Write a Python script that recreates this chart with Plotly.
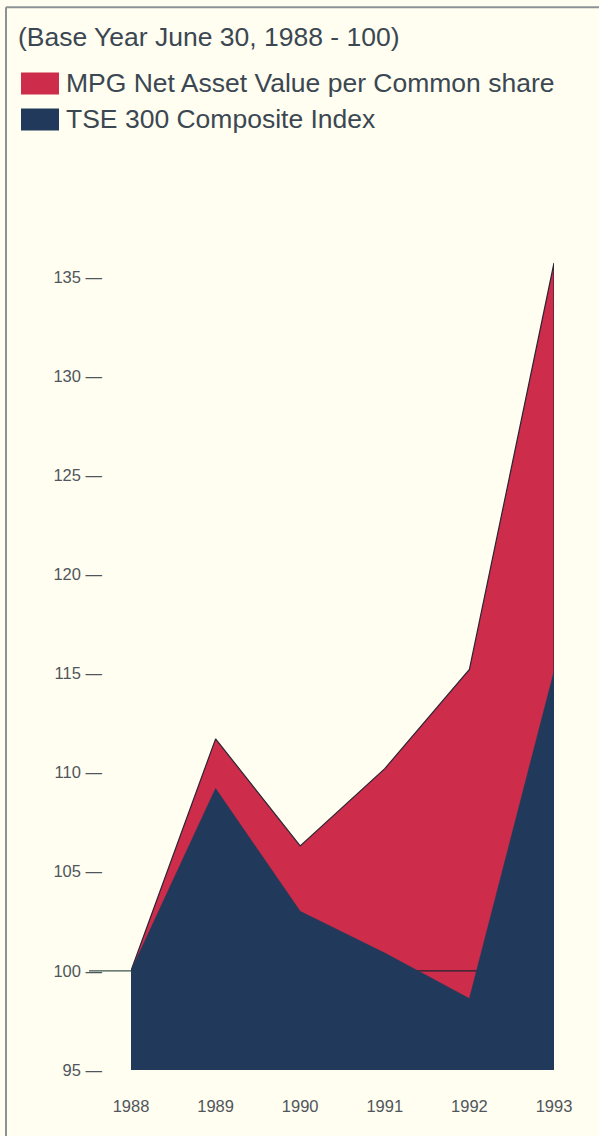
import plotly.graph_objects as go

years = [1988, 1989, 1990, 1991, 1992, 1993]
mpg_nav = [100, 111.7, 106.3, 110.2, 115.2, 135.7]
tse_300 = [100, 109.2, 103.0, 100.9, 98.6, 115.1]
y_ticks = [95, 100, 105, 110, 115, 120, 125, 130, 135]
base_value = 100

title_text = "(Base Year June 30, 1988 - 100)"
legend_names = ["MPG Net Asset Value per Common share", "TSE 300 Composite Index"]

RED = "#cd2c4a"
NAVY = "#213a5b"
BG = "#fffef0"
TXT = "#3b4752"
TICK = "#50565c"
FONT = "Liberation Sans, Arial, Helvetica, sans-serif"

W, H = 599, 1136
L, R, B = 131, 45, 66
Y0, Y1 = 95, 136
px_per_unit = (1070 - 277.3) / 40.0
T = H - B - (Y1 - Y0) * px_per_unit
PW = W - L - R
PH = H - T - B


def px_x(p):
    return (p - L) / PW


def px_y(p):
    return (H - B - p) / PH


fig = go.Figure()

# MPG area (red) with dark outline including right edge
fig.add_trace(go.Scatter(
    x=years + [years[-1]], y=mpg_nav + [Y0],
    mode="lines", fill="tozeroy", fillcolor=RED,
    line=dict(color="#2a2535", width=1.2),
    showlegend=False, hoverinfo="skip"))

# base line at 100, drawn between the two areas
fig.add_trace(go.Scatter(
    x=[years[0], years[-1]], y=[base_value, base_value],
    mode="lines", line=dict(color="#1f2430", width=1.3),
    showlegend=False, hoverinfo="skip"))

# TSE area (navy)
fig.add_trace(go.Scatter(
    x=years, y=tse_300,
    mode="lines", fill="tozeroy", fillcolor=NAVY,
    line=dict(color=NAVY, width=0.5),
    showlegend=False, hoverinfo="skip"))

shapes = [
    # left piece of base line outside plot
    dict(type="line", xref="paper", yref="y", x0=px_x(89), x1=0, y0=base_value, y1=base_value,
         line=dict(color="#3b554d", width=1.3)),
    # frame lines
    dict(type="line", xref="paper", yref="paper", x0=px_x(6), x1=px_x(W + 2), y0=px_y(8), y1=px_y(8),
         line=dict(color="#8d9296", width=2)),
    dict(type="line", xref="paper", yref="paper", x0=px_x(6), x1=px_x(6), y0=px_y(8), y1=px_y(H + 2),
         line=dict(color="#8d9296", width=2)),
    # legend swatches
    dict(type="rect", xref="paper", yref="paper", x0=px_x(21), x1=px_x(59), y0=px_y(95), y1=px_y(73),
         fillcolor=RED, line=dict(width=0)),
    dict(type="rect", xref="paper", yref="paper", x0=px_x(21), x1=px_x(59), y0=px_y(131), y1=px_y(109),
         fillcolor=NAVY, line=dict(width=0)),
]

annotations = [
    dict(text=title_text, xref="paper", yref="paper", x=px_x(16), y=px_y(38),
         xanchor="left", yanchor="middle", showarrow=False,
         font=dict(family=FONT, size=26.5, color=TXT)),
    dict(text=legend_names[0], xref="paper", yref="paper", x=px_x(64), y=px_y(84),
         xanchor="left", yanchor="middle", showarrow=False,
         font=dict(family=FONT, size=26.5, color=TXT)),
    dict(text=legend_names[1], xref="paper", yref="paper", x=px_x(64), y=px_y(120),
         xanchor="left", yanchor="middle", showarrow=False,
         font=dict(family=FONT, size=26.5, color=TXT)),
]

fig.update_layout(
    width=W, height=H,
    margin=dict(l=L, r=R, t=T, b=B, pad=0),
    paper_bgcolor=BG, plot_bgcolor=BG,
    shapes=shapes, annotations=annotations,
    showlegend=False,
    xaxis=dict(range=[years[0], years[-1]], tickvals=years, ticktext=[str(y) for y in years],
               showgrid=False, zeroline=False, showline=False, ticks="",
               ticklabelstandoff=24,
               tickfont=dict(family=FONT, size=16.5, color=TICK)),
    yaxis=dict(range=[Y0, Y1], tickvals=y_ticks, ticktext=[f"{v} \u2014" for v in y_ticks],
               showgrid=False, zeroline=False, showline=False, ticks="",
               ticklabelstandoff=28,
               tickfont=dict(family=FONT, size=16.5, color=TICK)),
)

fig.write_html("out.html")
